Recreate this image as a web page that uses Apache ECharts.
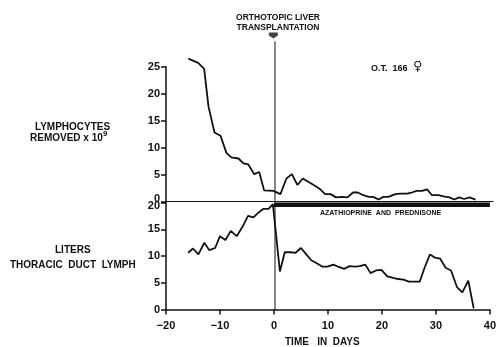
<!DOCTYPE html>
<html>
<head>
<meta charset="utf-8">
<script src="https://cdn.jsdelivr.net/npm/echarts@6/dist/echarts.min.js"></script>
<style>
  html, body { margin: 0; padding: 0; background: #fff; }
  #chart { width: 499px; height: 347px; }
</style>
</head>
<body>
<div id="chart"></div>
<script>
// lymphocytes removed (x 10^9) by day
const lymphDays = [-15.9, -14.1, -13.0, -12.2, -11.1, -10.0, -8.9, -8.0, -6.7, -5.8, -4.9, -3.8, -2.9, -2.0, -0.3,
  1.0, 2.1, 3.1, 4.1, 5.1, 6.1, 7.4, 8.3, 9.2, 10.2, 11.2, 12.2, 13.3, 14.3, 15.2, 16.2, 17.2, 18.0, 19.0, 19.9,
  20.8, 22.1, 23.0, 24.2, 25.1, 26.0, 27.0, 27.9, 28.8, 30.0, 30.9, 32.0, 32.9, 33.8, 34.7, 35.7, 36.8]
const lymphValues = [26.5, 25.7, 24.6, 17.6, 12.8, 12.2, 9.0, 8.2, 8.0, 7.1, 6.9, 5.1, 5.5, 2.1, 2.0,
  1.4, 4.3, 5.1, 3.1, 4.3, 3.7, 2.9, 2.3, 1.4, 1.4, 0.8, 0.9, 0.8, 1.7, 1.7, 1.2, 0.9, 0.9, 0.4, 0.9,
  0.9, 1.4, 1.5, 1.5, 1.7, 2.0, 2.0, 2.3, 1.2, 1.2, 1.0, 0.8, 0.4, 0.8, 0.5, 0.8, 0.4]

// liters of thoracic duct lymph by day
const lymphFlowDays = [-15.9, -15.0, -14.0, -12.9, -12.0, -10.9, -10.0, -9.0, -8.0, -6.9, -5.8, -4.8, -3.8, -2.9,
  -2.0, -1.0, -0.2, 0, 1.1, 2.0, 3.1, 4.0, 5.0, 6.0, 6.9, 8.0, 9.0, 9.9, 11.0, 11.9, 13.0, 14.0, 15.0, 15.9,
  16.9, 17.9, 18.9, 19.9, 21.0, 22.1, 23.0, 24.0, 25.0, 26.0, 27.0, 27.9, 28.9, 29.8, 30.8, 31.8, 32.8, 33.9,
  34.9, 36.0, 37.0]
const lymphFlowValues = [10.6, 11.4, 10.3, 12.5, 11.1, 11.5, 13.7, 13.0, 14.7, 13.7, 15.5, 17.5, 17.2, 18.1,
  18.8, 18.8, 19.7, 20.0, 7.1, 10.7, 10.7, 10.6, 11.5, 10.3, 9.2, 8.6, 8.0, 8.0, 8.4, 8.0, 7.6, 8.1, 8.0, 8.1,
  8.4, 6.8, 7.3, 7.4, 6.2, 5.9, 5.7, 5.6, 5.2, 5.2, 5.2, 7.8, 10.3, 9.7, 9.5, 7.8, 7.3, 4.2,
  3.2, 5.4, 0.2]

const dayTicks = [-20, -10, 0, 10, 20, 30, 40]
const lymphTicks = [0, 5, 10, 15, 20, 25]
const flowTicks = [0, 5, 10, 15, 20]
const treatmentSpan = [0, 40]

const font = 'Liberation Sans'
const ink = '#111'

const chart = echarts.init(document.getElementById('chart'))

const tickLabel = { color: ink, fontFamily: font, fontWeight: 'bold', fontSize: 11 }

chart.setOption({
  animation: false,
  grid: [
    { left: 166, top: 66.7, width: 327, height: 135, containLabel: false },
    { left: 166, top: 202.5, width: 327, height: 107, containLabel: false },
  ],
  title: [
    { text: 'ORTHOTOPIC LIVER\nTRANSPLANTATION', left: 273, top: 8, textAlign: 'center',
      textStyle: { fontFamily: font, fontWeight: 'bold', fontSize: 8.5, lineHeight: 10, color: ink } },
  ],
  graphic: [
    { type: 'text', left: 35, top: 122, style: { text: 'LYMPHOCYTES', font: 'bold 10px ' + font, fill: ink } },
    { type: 'text', left: 30, top: 133, style: { text: 'REMOVED x 10', font: 'bold 10px ' + font, fill: ink } },
    { type: 'text', left: 103, top: 130, style: { text: '9', font: 'bold 8px ' + font, fill: ink } },
    { type: 'text', left: 55, top: 245, style: { text: 'LITERS', font: 'bold 10px ' + font, fill: ink } },
    { type: 'text', left: 10, top: 260, style: { text: 'THORACIC  DUCT  LYMPH', font: 'bold 10px ' + font, fill: ink } },
    { type: 'text', left: 371, top: 64, style: { text: 'O.T.  166', font: 'bold 9px ' + font, fill: ink } },
    { type: 'text', left: 413, top: 60, style: { text: '♀', font: 'bold 13px DejaVu Sans', fill: ink } },
    { type: 'text', left: 320, top: 210, style: { text: 'AZATHIOPRINE  AND  PREDNISONE', font: 'bold 7px ' + font, fill: ink } },
    { type: 'text', left: 285, top: 337, style: { text: 'TIME   IN  DAYS', font: 'bold 10px ' + font, fill: ink } },
  ],
  xAxis: [
    { type: 'value', gridIndex: 0, min: -20, max: 40, interval: 10,
      axisLine: { show: true, onZero: true, lineStyle: { color: ink, width: 1 } },
      axisTick: { show: false }, axisLabel: { show: false }, splitLine: { show: false } },
    { type: 'value', gridIndex: 1, min: -20, max: 40, interval: 10,
      axisLine: { show: true, onZero: false, lineStyle: { color: ink, width: 1.5 } },
      axisTick: { show: true, length: 5, inside: false, lineStyle: { color: ink, width: 1.5 } },
      axisLabel: Object.assign({ margin: 11, formatter: v => dayTicks.includes(v) ? String(v).replace('-', '−') : '' }, tickLabel),
      splitLine: { show: false } },
  ],
  yAxis: [
    { type: 'value', gridIndex: 0, min: 0, max: 25, interval: 5,
      axisLine: { show: true, onZero: false, lineStyle: { color: ink, width: 1.5 } },
      axisTick: { show: true, length: 5, lineStyle: { color: ink, width: 1.5 } },
      axisLabel: Object.assign({
        margin: 6,
        formatter: v => v === 0 ? '{up|0}' : (lymphTicks.includes(v) ? String(v) : ''),
        rich: { up: { fontFamily: font, fontWeight: 'bold', fontSize: 11, color: ink, padding: [0, 0, 5, 0] } },
      }, tickLabel),
      splitLine: { show: false } },
    { type: 'value', gridIndex: 1, min: 0, max: 20, interval: 5,
      axisLine: { show: true, onZero: false, lineStyle: { color: ink, width: 1.5 } },
      axisTick: { show: true, length: 5, lineStyle: { color: ink, width: 1.5 } },
      axisLabel: Object.assign({
        margin: 6,
        formatter: v => v === 20 ? '{down|20}' : (flowTicks.includes(v) ? String(v) : ''),
        rich: { down: { fontFamily: font, fontWeight: 'bold', fontSize: 11, color: ink, padding: [6, 0, 0, 0] } },
      }, tickLabel),
      splitLine: { show: false } },
  ],
  series: [
    { name: 'Lymphocytes removed', type: 'line', xAxisIndex: 0, yAxisIndex: 0, clip: false,
      data: lymphDays.map((d, i) => [d, lymphValues[i]]),
      symbol: 'none', lineStyle: { color: ink, width: 1.8 } },
    { name: 'Thoracic duct lymph', type: 'line', xAxisIndex: 1, yAxisIndex: 1, clip: false,
      data: lymphFlowDays.map((d, i) => [d, lymphFlowValues[i]]),
      symbol: 'none', lineStyle: { color: ink, width: 1.8 } },
    { name: 'Azathioprine and prednisone', type: 'line', xAxisIndex: 1, yAxisIndex: 1, clip: false,
      data: treatmentSpan.map(d => [d, 19.6]),
      symbol: 'none', lineStyle: { color: ink, width: 4.5, cap: 'butt' } },
    { name: 'Transplantation', type: 'line', xAxisIndex: 0, yAxisIndex: 0, clip: false,
      data: [[0, 29.7], [0, -20.1]],
      symbol: 'none', lineStyle: { color: ink, width: 1 } },
    { name: 'Transplantation marker', type: 'scatter', xAxisIndex: 0, yAxisIndex: 0, clip: false,
      data: [[-0.3, 30.8]],
      symbol: 'path://M0,0 L10,0 L10,3 L5,6 L0,3 Z', symbolSize: [9, 6],
      itemStyle: { color: ink } },
  ],
})
</script>
</body>
</html>
